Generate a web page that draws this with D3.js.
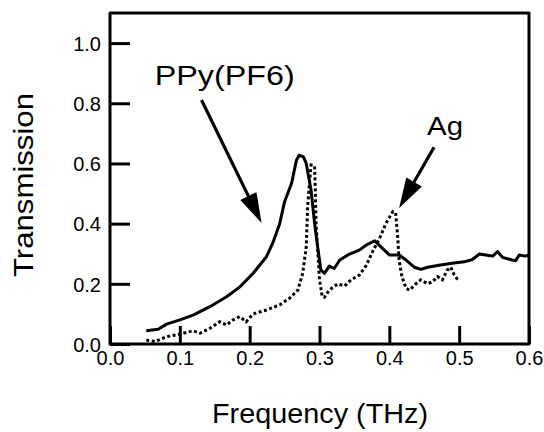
<!DOCTYPE html>
<html>
<head>
<meta charset="utf-8">
<script src="https://cdn.jsdelivr.net/npm/d3@7"></script>
<style>
  body { margin: 0; background: #fff; }
  svg text { font-family: "Liberation Sans", Arial, Helvetica, sans-serif; fill: #000; }
</style>
</head>
<body>
<div id="chart"></div>
<script>
// PPy(PF6) transmission, solid line [frequency THz, transmission]
const ppy_freq = [0.052, 0.069, 0.081, 0.1, 0.119, 0.143, 0.167, 0.186, 0.205, 0.224, 0.233, 0.243, 0.25, 0.26, 0.267, 0.271, 0.277, 0.281, 0.288, 0.293, 0.298, 0.302, 0.307, 0.314, 0.321, 0.329, 0.343, 0.357, 0.367, 0.379, 0.388, 0.4, 0.414, 0.424, 0.436, 0.445, 0.455, 0.471, 0.49, 0.507, 0.519, 0.529, 0.538, 0.548, 0.555, 0.562, 0.576, 0.581, 0.586, 0.595, 0.6];
const ppy_trans = [0.044, 0.049, 0.066, 0.08, 0.096, 0.124, 0.157, 0.19, 0.235, 0.29, 0.335, 0.40, 0.473, 0.534, 0.611, 0.628, 0.622, 0.6, 0.51, 0.40, 0.312, 0.246, 0.235, 0.259, 0.251, 0.279, 0.299, 0.312, 0.329, 0.343, 0.323, 0.296, 0.296, 0.279, 0.255, 0.248, 0.255, 0.262, 0.268, 0.273, 0.281, 0.299, 0.296, 0.292, 0.307, 0.288, 0.279, 0.277, 0.296, 0.292, 0.296];

// Ag transmission, dotted line
const ag_freq = [0.052, 0.064, 0.081, 0.1, 0.119, 0.129, 0.143, 0.157, 0.167, 0.176, 0.186, 0.195, 0.205, 0.224, 0.243, 0.257, 0.269, 0.276, 0.281, 0.283, 0.286, 0.288, 0.293, 0.294, 0.295, 0.298, 0.3, 0.304, 0.307, 0.314, 0.326, 0.336, 0.345, 0.357, 0.367, 0.376, 0.386, 0.395, 0.405, 0.409, 0.412, 0.414, 0.418, 0.424, 0.429, 0.438, 0.445, 0.455, 0.462, 0.469, 0.476, 0.483, 0.488, 0.493, 0.5];
const ag_trans = [0.013, 0.008, 0.024, 0.033, 0.044, 0.036, 0.052, 0.074, 0.063, 0.08, 0.091, 0.074, 0.1, 0.113, 0.13, 0.152, 0.179, 0.235, 0.323, 0.456, 0.545, 0.595, 0.591, 0.51, 0.40, 0.29, 0.213, 0.157, 0.155, 0.179, 0.2, 0.193, 0.213, 0.229, 0.262, 0.307, 0.351, 0.40, 0.44, 0.436, 0.356, 0.279, 0.224, 0.185, 0.179, 0.2, 0.213, 0.2, 0.207, 0.224, 0.213, 0.246, 0.255, 0.229, 0.207];

const x_ticks = [0.0, 0.1, 0.2, 0.3, 0.4, 0.5, 0.6];
const y_ticks = [0.0, 0.2, 0.4, 0.6, 0.8, 1.0];

// annotation labels: text, anchor point [freq, trans], arrow from / to
const labels = ["PPy(PF6)", "Ag"];
const label_pos = [[0.064, 0.86], [0.454, 0.694]];
const arrow_from = [[0.131, 0.811], [0.464, 0.654]];
const arrow_to = [[0.217, 0.402], [0.414, 0.452]];

const width = 544, height = 432;
const svg = d3.select("#chart").append("svg")
    .attr("width", width)
    .attr("height", height);

// set up x and y
let x = d3.scaleLinear().domain([0, 0.6]).range([110, 529]);
let y = d3.scaleLinear().domain([0, 1.1]).range([344, 13]);

// inward ticks
let xAxis = svg.append("g")
    .attr("transform", `translate(0,${y(0)})`)
    .call(d3.axisBottom(x).tickValues(x_ticks).tickSize(-18).tickFormat(d3.format(".1f")));
let yAxis = svg.append("g")
    .attr("transform", `translate(${x(0)},0)`)
    .call(d3.axisLeft(y).tickValues(y_ticks).tickSize(-20).tickFormat(d3.format(".1f")));

[xAxis, yAxis].forEach(g => {
    g.select(".domain").remove();
    g.selectAll(".tick line").attr("stroke", "#000").attr("stroke-width", 3);
    g.selectAll(".tick text").attr("font-size", 20).attr("fill", "#000")
        .style("font-family", "'Liberation Sans', Arial, sans-serif");
});
xAxis.selectAll(".tick text").attr("dy", 0).attr("y", 21);
yAxis.selectAll(".tick text").attr("x", -9).attr("dy", "0.36em");

// frame
svg.append("rect")
    .attr("x", x(0)).attr("y", y(1.1))
    .attr("width", x(0.6) - x(0)).attr("height", y(0) - y(1.1))
    .attr("fill", "none").attr("stroke", "#000").attr("stroke-width", 3)
    .attr("stroke-linejoin", "round");

let line = d3.line().x(d => x(d[0])).y(d => y(d[1]));

svg.append("path")
    .datum(d3.zip(ppy_freq, ppy_trans))
    .attr("d", line)
    .attr("fill", "none").attr("stroke", "#000")
    .attr("stroke-width", 3).attr("stroke-linejoin", "round");

svg.append("path")
    .datum(d3.zip(ag_freq, ag_trans))
    .attr("d", line)
    .attr("fill", "none").attr("stroke", "#000")
    .attr("stroke-width", 3).attr("stroke-dasharray", "3 2.5");

// arrows
labels.forEach((t, i) => {
    let x1 = x(arrow_from[i][0]), y1 = y(arrow_from[i][1]);
    let x2 = x(arrow_to[i][0]), y2 = y(arrow_to[i][1]);
    let len = Math.hypot(x2 - x1, y2 - y1);
    let ux = (x2 - x1) / len, uy = (y2 - y1) / len;
    let headL = 30, headW = 9;
    let bx = x2 - ux * headL, by = y2 - uy * headL;
    svg.append("line")
        .attr("x1", x1).attr("y1", y1).attr("x2", bx + ux * 2).attr("y2", by + uy * 2)
        .attr("stroke", "#000").attr("stroke-width", 3.2);
    svg.append("polygon")
        .attr("points", [[x2, y2], [bx - uy * headW, by + ux * headW], [bx + uy * headW, by - ux * headW]].map(p => p.join(",")).join(" "))
        .attr("fill", "#000");
    svg.append("text")
        .attr("x", x(label_pos[i][0])).attr("y", y(label_pos[i][1]))
        .attr("font-size", i == 0 ? 27 : 26)
        .attr("textLength", i == 0 ? 140 : 36)
        .attr("lengthAdjust", "spacingAndGlyphs")
        .text(t);
});

// axis titles
svg.append("text")
    .attr("x", 320).attr("y", 423)
    .attr("text-anchor", "middle")
    .attr("font-size", 27)
    .attr("textLength", 216).attr("lengthAdjust", "spacingAndGlyphs")
    .text("Frequency (THz)");

svg.append("text")
    .attr("transform", "translate(33,185) rotate(-90)")
    .attr("text-anchor", "middle")
    .attr("font-size", 27)
    .attr("textLength", 184).attr("lengthAdjust", "spacingAndGlyphs")
    .text("Transmission");
</script>
</body>
</html>
